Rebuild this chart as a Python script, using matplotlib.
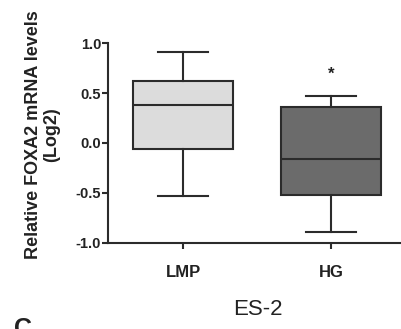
import matplotlib.pyplot as plt

groups = ['LMP', 'HG']
whislo = [-0.53, -0.89]
q1 = [-0.065, -0.52]
med = [0.38, -0.16]
q3 = [0.62, 0.36]
whishi = [0.91, 0.47]
box_colors = ['#dcdcdc', '#6b6b6b']
star_y = 0.69

plt.rcParams['font.family'] = ['Liberation Sans', 'DejaVu Sans']

fig = plt.figure(figsize=(4.02, 3.29), dpi=100)
ax = fig.add_axes([0.2687, 0.2614, 0.7263, 0.6079])

stats = []
for i in range(len(groups)):
    stats.append({'label': groups[i], 'whislo': whislo[i], 'q1': q1[i], 'med': med[i],
                  'q3': q3[i], 'whishi': whishi[i], 'fliers': []})

line_c = '#2b2b2b'
bp = ax.bxp(stats, positions=[1, 2], widths=0.67, patch_artist=True, showfliers=False,
            boxprops=dict(edgecolor=line_c, linewidth=1.5),
            medianprops=dict(color=line_c, linewidth=1.5),
            whiskerprops=dict(color=line_c, linewidth=1.5),
            capprops=dict(color=line_c, linewidth=1.5),
            capwidths=0.335)
for patch, c in zip(bp['boxes'], box_colors):
    patch.set_facecolor(c)

ax.text(2, star_y, '*', ha='center', va='center', fontsize=12, fontweight='bold', color='#222222')

ax.set_xlim(0.493, 2.466)
ax.set_ylim(-1.0, 1.0)
ax.set_yticks([-1.0, -0.5, 0.0, 0.5, 1.0])
ax.set_yticklabels(['-1.0', '-0.5', '0.0', '0.5', '1.0'])
ax.spines['top'].set_visible(False)
ax.spines['right'].set_visible(False)
for s in ['left', 'bottom']:
    ax.spines[s].set_linewidth(1.5)
    ax.spines[s].set_color(line_c)
ax.tick_params(axis='both', width=1.5, length=4, color=line_c, labelcolor='#222222')
ax.tick_params(axis='y', labelsize=10.5, pad=1)
ax.tick_params(axis='x', labelsize=12, pad=12)
for lab in ax.get_yticklabels() + ax.get_xticklabels():
    lab.set_fontweight('bold')

ax.set_ylabel('Relative FOXA2 mRNA levels\n(Log2)', fontsize=13, fontweight='bold',
              color='#222222', linespacing=1.05)
ax.yaxis.set_label_coords(-0.165, 0.54)

fig.text(0.642, 0.058, 'ES-2', ha='center', va='center', fontsize=16, color='#222222')
fig.text(0.035, -0.035, 'C', ha='left', va='bottom', fontsize=18, fontweight='bold', color='#222222')

fig.savefig('out.png', dpi=100)
